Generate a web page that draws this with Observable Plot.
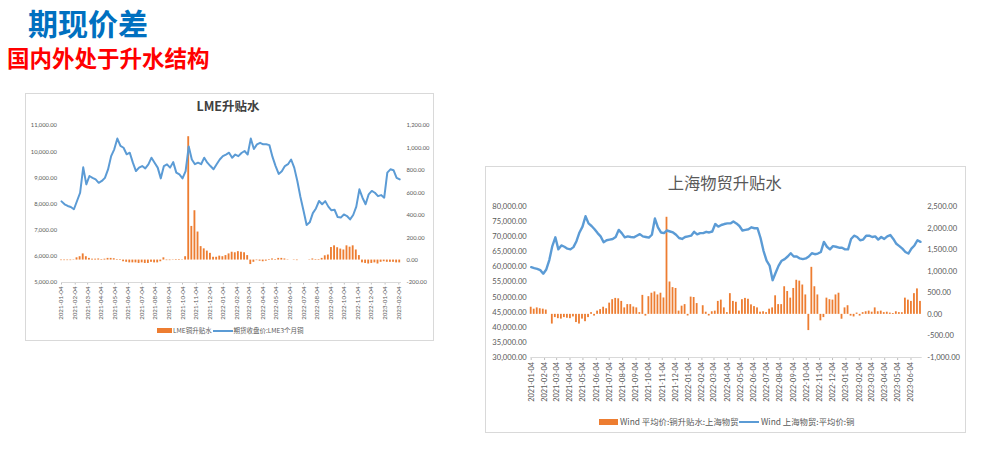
<!DOCTYPE html>
<html><head><meta charset="utf-8">
<script src="https://cdn.jsdelivr.net/npm/d3@7"></script>
<script src="https://cdn.jsdelivr.net/npm/@observablehq/plot@0.6"></script>
<style>
body{margin:0;background:#fff;width:989px;height:462px;overflow:hidden;position:relative;font-family:"Noto Sans CJK SC","Noto Sans",sans-serif}
.t{position:absolute;white-space:nowrap;line-height:1em}
.panel{position:absolute;border:1px solid #d9d9d9;box-sizing:border-box;background:#fff}
.chart{position:absolute}
.sw{position:absolute}
</style></head><body>
<div class="t" style="left:28px;top:0px;font-size:30px;line-height:normal;color:#0070C0;font-weight:700">期现价差</div>
<div class="t" style="left:7px;top:45.5px;font-size:22.5px;color:#FF0000;font-weight:700">国内外处于升水结构</div>

<div class="panel" style="left:25px;top:93px;width:409px;height:248px"></div>
<div class="panel" style="left:485px;top:166px;width:481px;height:267px"></div>

<div class="t" id="lt" style="font-size:12.5px;color:#404040;font-weight:700">LME升贴水</div>
<div class="t" id="rt" style="font-size:16.3px;color:#595959">上海物贸升贴水</div>

<div id="c1" class="chart" style="left:25px;top:115px"></div>
<div id="c2" class="chart" style="left:485px;top:196px"></div>

<div class="sw" style="left:157px;top:328.3px;width:15px;height:5px;background:#ED7D31"></div>
<div class="t" style="left:173px;top:327px;font-size:6.5px;color:#595959">LME铜升贴水</div>
<div class="sw" style="left:213px;top:329.7px;width:20px;height:2px;background:#5B9BD5"></div>
<div class="t" style="left:233.5px;top:327px;font-size:6.5px;color:#595959">期货收盘价:LME3个月铜</div>

<div class="sw" style="left:599px;top:419px;width:19px;height:5.5px;background:#ED7D31"></div>
<div class="t" style="left:620px;top:417px;font-size:8.4px;color:#595959">Wind 平均价:铜升贴水:上海物贸</div>
<div class="sw" style="left:739px;top:420.5px;width:20px;height:2.5px;background:#5B9BD5"></div>
<div class="t" style="left:761px;top:417px;font-size:8.4px;color:#595959">Wind 上海物贸:平均价:铜</div>

<script>
// ---------------- DATA ----------------
// LME chart: weekly readings starting 2021-01-04
const lmeStart = "2021-01-04";
const lmeClose = [
 8100,7990,7925,7885,7800,8115,8430,9400,8750,9070,
 9000,8940,8810,8880,9000,9320,9830,10090,10500,10220,
 10150,9900,9960,9580,9260,9390,9450,9360,9515,9770,
 9580,9390,8980,9450,9515,9390,9600,9200,9130,8980,
 9260,10200,9700,9520,9580,9520,9770,9580,9450,9330,
 9520,9700,9830,9890,9960,9770,9890,9830,9950,10025,
 9890,10500,10100,10280,10340,10280,10280,10250,9800,9450,
 9150,9250,9450,9520,9700,9390,8880,8270,7740,7200,
 7300,7650,7830,8115,7990,8110,7900,7760,7780,7500,
 7480,7600,7540,7410,7580,7900,8560,8240,7990,8370,
 8500,8430,8300,8340,8240,9200,9325,9290,9000,8940];
const lmeSpread = [
 -5,-5,-5,-5,-3,20,30,55,30,15,
 8,8,10,5,8,15,15,12,5,5,
 -15,-20,-25,-25,-25,-30,-25,-30,-30,-20,
 -25,-25,-15,20,-5,-5,-3,5,5,3,
 30,1100,300,440,250,120,100,80,60,25,
 25,35,30,40,55,70,65,75,70,65,
 40,-40,-20,-5,-10,-15,-10,5,10,5,
 15,15,10,3,0,-3,-5,0,0,0,
 3,10,5,5,15,38,45,112,127,110,
 98,90,127,115,127,90,40,-25,-30,-35,
 -30,-25,-35,-20,-15,-20,-20,-20,-25,-25];
const lmeLeftTicks = [5000,6000,7000,8000,9000,10000,11000];
const lmeRightTicks = [-200,0,200,400,600,800,1000,1200];
const lmeXTicks = ["2021-01-04","2021-02-04","2021-03-04","2021-04-04","2021-05-04","2021-06-04","2021-07-04","2021-08-04","2021-09-04","2021-10-04","2021-11-04","2021-12-04","2022-01-04","2022-02-04","2022-03-04","2022-04-04","2022-05-04","2022-06-04","2022-07-04","2022-08-04","2022-09-04","2022-10-04","2022-11-04","2022-12-04","2023-01-04","2023-02-04"];

// Shanghai chart: weekly readings starting 2021-01-04
const shStart = "2021-01-04";
const shPrice = [
 59900,59580,59360,58930,57750,59150,62260,66890,69800,65810,
 67100,66670,66030,65810,66560,68500,71400,73340,76780,74410,
 73550,72470,71190,70110,68180,68820,69040,69250,69900,72260,
 71190,69790,70110,69900,69790,70330,70860,70110,69900,69680,
 70650,76020,73120,71400,71190,72050,71720,71400,70650,69570,
 69250,69900,70110,70330,71620,70760,71190,71190,71620,71400,
 71720,74200,73340,73870,74200,74410,74410,75060,74410,73550,
 72050,72260,72470,73120,72800,72800,69570,65270,62050,60430,
 55600,58070,60430,62050,62590,63450,64520,63450,63450,62800,
 62590,62800,63450,64520,64200,64420,64950,68280,66670,65810,
 66890,66670,66350,66350,65810,65810,69250,70330,69900,68820,
 69040,70330,70330,69900,70110,69040,69900,69250,70110,70540,
 69250,67640,66890,66030,64950,64420,66030,67100,68820,68300];
const shSpread = [
 165,120,150,130,120,100,0,-225,-75,-100,
 -110,-75,-90,-100,-60,-190,-225,-110,-170,-75,
 40,-40,75,110,165,130,260,340,370,360,
 300,150,226,226,170,150,40,440,-40,410,
 490,520,450,490,380,2250,750,620,600,75,
 190,226,-38,400,390,250,0,200,50,-38,
 60,75,300,330,150,40,480,300,280,75,
 340,370,350,220,180,150,50,60,40,120,
 150,430,226,226,640,530,376,600,790,770,
 680,450,-376,1090,640,450,-150,-75,376,340,
 330,450,490,-113,150,200,-40,-60,30,-40,
 40,60,75,50,150,60,75,40,50,30,
 20,60,40,38,376,330,300,480,590,300];
const shLeftTicks = [30000,35000,40000,45000,50000,55000,60000,65000,70000,75000,80000];
const shRightTicks = [-1000,-500,0,500,1000,1500,2000,2500];
const shXTicks = ["2021-01-04","2021-02-04","2021-03-04","2021-04-04","2021-05-04","2021-06-04","2021-07-04","2021-08-04","2021-09-04","2021-10-04","2021-11-04","2021-12-04","2022-01-04","2022-02-04","2022-03-04","2022-04-04","2022-05-04","2022-06-04","2022-07-04","2022-08-04","2022-09-04","2022-10-04","2022-11-04","2022-12-04","2023-01-04","2023-02-04","2023-03-04","2023-04-04","2023-05-04","2023-06-04"];

// ---------------- RENDER ----------------
const parse = d3.utcParse("%Y-%m-%d");
const loc = d3.formatLocale({decimal:".", thousands:",", grouping:[3], currency:["",""], minus:"-"});
const fmt = loc.format(",.2f");
const weekly = (start, vals) => vals.map((v,i) => ({date: d3.utcDay.offset(parse(start), 7*i), v}));

const ORANGE = "#ED7D31", BLUE = "#5B9BD5", GRID = "#d9d9d9", TXT = "#595959";

function dual({el, width, height, margins, xDomain, leftDom, rightDom, leftTicks, rightTicks, xTicks, line, bars, yFont, xFont, lineW, tickLen}) {
  const k = (leftDom[1]-leftDom[0])/(rightDom[1]-rightDom[0]);
  const toL = v => leftDom[0] + (v - rightDom[0]) * k;
  const fromL = y => rightDom[0] + (y - leftDom[0]) / k;
  const half = 50;
  const p = Plot.plot({
    width, height, ...margins,
    x: {type: "utc", domain: xDomain},
    y: {domain: leftDom},
    style: {fontFamily: "Lato, 'Noto Sans', sans-serif", color: TXT, background: "transparent", overflow: "visible"},
    marks: [
      Plot.axisY(leftTicks, {anchor: "left", tickSize: 0, tickPadding: 4.5, tickFormat: fmt, fontSize: yFont, label: null, fill: TXT}),
      Plot.axisY(rightTicks.map(toL), {anchor: "right", tickSize: 0, tickPadding: 5, tickFormat: d => fmt(Math.round(fromL(d))), fontSize: yFont, label: null, fill: TXT}),
      Plot.axisX(xTicks.map(parse), {tickRotate: -90, tickSize: tickLen, tickPadding: 1.5, tickFormat: d3.utcFormat("%Y-%m-%d"), fontSize: xFont, label: null, stroke: "#bfbfbf", fill: TXT}),
      Plot.ruleY([leftDom[0]], {stroke: GRID, strokeWidth: 1}),
      Plot.rect(bars, {
        x1: d => d3.utcHour.offset(d.date, -half),
        x2: d => d3.utcHour.offset(d.date, half),
        y1: () => toL(0), y2: d => toL(d.v), fill: ORANGE
      }),
      Plot.line(line, {x: "date", y: "v", stroke: BLUE, strokeWidth: lineW, strokeLinejoin: "round"})
    ]
  });
  document.getElementById(el).appendChild(p);
}

dual({
  el: "c1", width: 409, height: 208,
  margins: {marginLeft: 36, marginRight: 33, marginTop: 10, marginBottom: 41},
  xDomain: [parse("2021-01-04"), parse("2023-02-10")],
  leftDom: [5000, 11000], rightDom: [-200, 1200],
  leftTicks: lmeLeftTicks, rightTicks: lmeRightTicks, xTicks: lmeXTicks,
  line: weekly(lmeStart, lmeClose), bars: weekly(lmeStart, lmeSpread),
  yFont: 5.8, xFont: 6.2, lineW: 2, tickLen: 2.5
});

dual({
  el: "c2", width: 481, height: 214,
  margins: {marginLeft: 45.7, marginRight: 44.3, marginTop: 10, marginBottom: 53},
  xDomain: [parse("2021-01-04"), parse("2023-06-30")],
  leftDom: [30000, 80000], rightDom: [-1000, 2500],
  leftTicks: shLeftTicks, rightTicks: shRightTicks, xTicks: shXTicks,
  line: weekly(shStart, shPrice), bars: weekly(shStart, shSpread),
  yFont: 7.6, xFont: 7.4, lineW: 2.4, tickLen: 3
});

// center chart titles
function centerText(id, cx, cy) {
  const e = document.getElementById(id);
  const r = e.getBoundingClientRect();
  const f = parseFloat(getComputedStyle(e).fontSize);
  e.style.left = (cx - r.width/2) + "px";
  e.style.top = (cy - 0.555*f) + "px";
}
centerText("lt", 228, 106.7);
centerText("rt", 724.7, 183.3);
</script>
</body></html>
